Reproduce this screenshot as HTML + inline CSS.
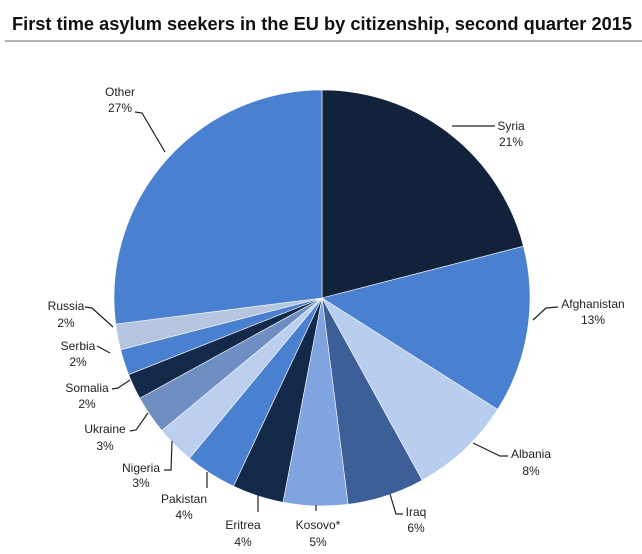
<!DOCTYPE html>
<html><head><meta charset="utf-8"><style>
html,body{margin:0;padding:0;background:#fff;}
svg{display:block;}
text{font-family:"Liberation Sans",sans-serif;}
</style></head><body>
<svg width="642" height="554" viewBox="0 0 642 554" xmlns="http://www.w3.org/2000/svg">
<rect width="642" height="554" fill="#fff"/>
<text x="12" y="30" font-size="18" font-weight="bold" fill="#111" textLength="620" lengthAdjust="spacingAndGlyphs">First time asylum seekers in the EU by citizenship, second quarter 2015</text>
<line x1="5" y1="41" x2="642" y2="41" stroke="#999" stroke-width="1.5"/>
<g id="pie" stroke="#fff" stroke-width="0.6"></g>
<g stroke="#222" stroke-width="1.2" fill="none">
<polyline points="452,126 495,126"/>
<polyline points="533,320 546,308 558,307"/>
<polyline points="473,443 500,456 508,456"/>
<polyline points="390,494 396,514 403,514"/>
<polyline points="316,505 316,511"/>
<polyline points="258,495 258,512"/>
<polyline points="207,472 207,488"/>
<polyline points="172,441 171,470 164,470"/>
<polyline points="148,413 136,430 130,431"/>
<polyline points="130,380 118,388 112,389"/>
<polyline points="110,353 97,346"/>
<polyline points="113,327 92,308 85,307"/>
<polyline points="165,152 142,113 135,112"/>
</g>
<g font-size="12" fill="#222" text-anchor="middle">
<text x="511" y="130">Syria</text><text x="511" y="146">21%</text>
<text x="593" y="308">Afghanistan</text><text x="593" y="324">13%</text>
<text x="531" y="458">Albania</text><text x="531" y="475">8%</text>
<text x="416" y="516">Iraq</text><text x="416" y="532">6%</text>
<text x="318" y="529">Kosovo*</text><text x="318" y="546">5%</text>
<text x="243" y="529">Eritrea</text><text x="243" y="546">4%</text>
<text x="184" y="503">Pakistan</text><text x="184" y="519">4%</text>
<text x="141" y="472">Nigeria</text><text x="141" y="487">3%</text>
<text x="105" y="433">Ukraine</text><text x="105" y="450">3%</text>
<text x="87" y="392">Somalia</text><text x="87" y="408">2%</text>
<text x="78" y="350">Serbia</text><text x="78" y="366">2%</text>
<text x="66" y="310">Russia</text><text x="66" y="327">2%</text>
<text x="120" y="96">Other</text><text x="120" y="112">27%</text>
</g>
<script>
(function(){
var cx=322,cy=298,r=208;
var d=[[21,"#13223b"],[13,"#4a80d0"],[8,"#b9cdee"],[6,"#3b5f96"],[5,"#7fa4df"],[4,"#13294a"],[4,"#4a80d0"],[3,"#bccfee"],[3,"#6f8fc2"],[2,"#13294a"],[2,"#4a80d0"],[2,"#b6c6e1"],[27,"#4a80d0"]];
var g=document.getElementById("pie"),a=0,ns="http://www.w3.org/2000/svg";
d.forEach(function(s){
var a1=a+s[0]/100*2*Math.PI;
var x0=cx+r*Math.sin(a),y0=cy-r*Math.cos(a),x1=cx+r*Math.sin(a1),y1=cy-r*Math.cos(a1);
var p=document.createElementNS(ns,"path");
p.setAttribute("d","M"+cx+","+cy+"L"+x0+","+y0+"A"+r+","+r+" 0 "+((a1-a)>Math.PI?1:0)+" 1 "+x1+","+y1+"Z");
p.setAttribute("fill",s[1]);g.appendChild(p);a=a1;});
})();
</script>
</svg>
</body></html>
